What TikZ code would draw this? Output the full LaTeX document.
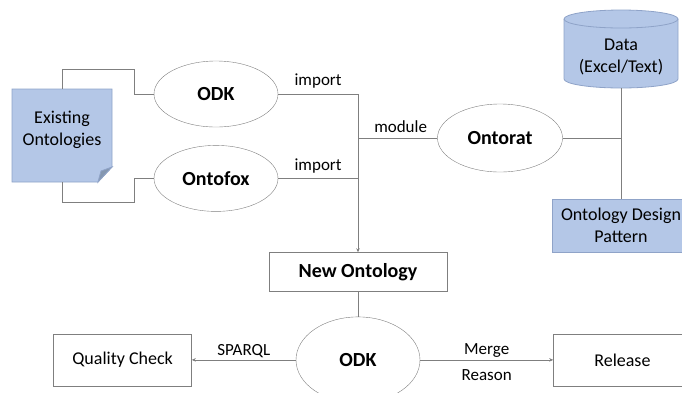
\documentclass[tikz,border=0pt]{standalone}
\usepackage{fontspec}
\setmainfont{Carlito}
\usetikzlibrary{positioning,shapes.geometric,arrows.meta}
\definecolor{boxblue}{HTML}{B4C7E7}
\definecolor{boxedge}{HTML}{8FA3C8}
\definecolor{foldblue}{HTML}{8497B0}
\definecolor{linegray}{HTML}{7F7F7F}

\tikzset{
  tool/.style={ellipse, draw=linegray, minimum width=124pt, minimum height=66pt, inner sep=0pt, font=\fontsize{20}{24}\selectfont\bfseries},
  plainbox/.style={rectangle, draw=linegray, minimum width=138pt, minimum height=52pt, inner sep=0pt, align=center, font=\fontsize{18}{22}\selectfont},
  bluebox/.style={plainbox, fill=boxblue, draw=boxedge},
  blueline/.style={draw=boxedge, line width=0.8pt},
  conn/.style={draw=linegray, line width=0.8pt},
  arr/.style={conn, -{Stealth[length=4pt,width=3.5pt]}},
  lbl/.style={font=\fontsize{17}{20}\selectfont, inner sep=2pt}
}

\begin{document}
\begin{tikzpicture}[x=1pt,y=-1pt]
  \useasboundingbox (0,0) rectangle (682,392);
  % existing ontologies (page with folded corner)
  \filldraw[fill=boxblue, blueline] (12,89) -- (112,89) -- (112,167) -- (98,182) -- (12,182) -- cycle;
  \filldraw[fill=foldblue, blueline] (112,167) -- (101,171) -- (98,182) -- cycle;
  \node[minimum width=100pt, minimum height=93pt, inner sep=0pt,
        label={[plainbox, draw=none, yshift=6pt]center:Existing\\Ontologies}] (exist) at (62,135.5) {};

  % data store (cylinder)
  \filldraw[fill=boxblue, blueline] (564,19) -- (564,79)
    arc[start angle=180, end angle=360, x radius=57pt, y radius=9pt] -- (678,19)
    arc[start angle=0, end angle=180, x radius=57pt, y radius=9pt] -- cycle;
  \draw[blueline] (564,19) arc[start angle=180, end angle=360, x radius=57pt, y radius=9pt];
  \node[plainbox, draw=none, minimum width=114pt, minimum height=62pt] (data) at (621,57) {Data\\(Excel/Text)};

  % tools
  \node[tool] (odk1) at (216,94) {ODK};
  \node[tool, below=18pt of odk1] (fox) {Ontofox};
  \node[tool, minimum width=125pt, minimum height=68pt] (rat) at (500,138) {Ontorat};
  \node[bluebox, minimum height=53pt] (odp) at (621,225.5) {Ontology Design\\Pattern};

  % new ontology and release steps
  \node[plainbox, minimum width=178pt, minimum height=39pt, font=\fontsize{20}{24}\selectfont\bfseries] (newont) at (358,272) {New Ontology};
  \node[tool, below=25pt of newont, minimum height=86pt] (odk2) {ODK};
  \node[plainbox, left=104pt of odk2] (qc) {Quality Check};
  \node[plainbox, right=133pt of odk2] (rel) {Release};

  % connectors
  \draw[conn] (exist.north) |- ++(72,-19) |- (odk1.west);
  \draw[conn] (exist.south) |- ++(72,20) |- (fox.west);
  \draw[arr] (odk1.east) -| node[pos=0.25, above=3pt, lbl] (limp1) {import} (newont.north);
  \draw[conn] (fox.east) -- node[above=3pt, lbl] (limp2) {import} (fox.east -| newont.north);
  \draw[conn] (rat.west) -- node[above=3pt, lbl, xshift=3pt] (lmod) {module} (rat.west -| newont.north);
  \draw[conn] (rat.east) -- (rat.east -| data.south);
  \draw[conn] (data.south) -- (odp.north);
  \draw[conn] (newont.south) -- (odk2.north);
  \draw[arr] (odk2.west) -- node[above, lbl] (lsparql) {SPARQL} (qc.east);
  \draw[arr] (odk2.east) -- node[above, lbl] (lmerge) {Merge} node[below=7pt, lbl] (lreason) {Reason} (rel.west);
\end{tikzpicture}
\end{document}
